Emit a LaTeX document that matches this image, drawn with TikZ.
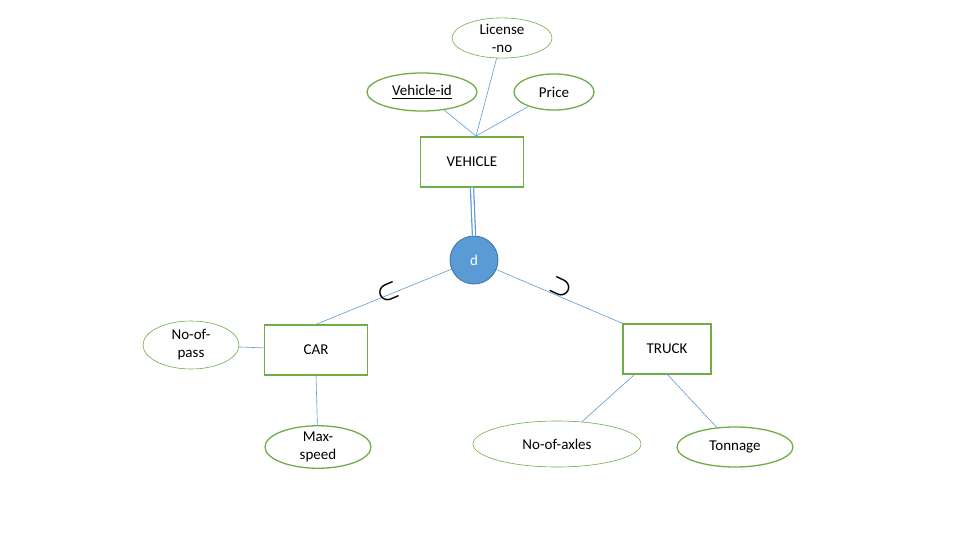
\documentclass[tikz,border=0pt]{standalone}
\usepackage{fontspec}
\usepackage{amsmath}
\setmainfont{Carlito}
\usetikzlibrary{shapes.geometric}

\definecolor{eggreen}{RGB}{112,173,71}
\definecolor{egblue}{RGB}{91,155,213}
\definecolor{egedge}{RGB}{65,113,156}

\tikzset{
  attr/.style = {ellipse, draw=eggreen, line width=1.3pt, inner sep=0pt, align=center},
  thinattr/.style = {attr, line width=0.6pt},
  entity/.style = {rectangle, draw=eggreen, line width=1.3pt, minimum width=103pt, minimum height=50pt},
  link/.style = {draw=egblue, line width=0.6pt},
  subs/.style = {font=\fontsize{40}{40}\selectfont, inner sep=0pt}
}

\begin{document}
\begin{tikzpicture}[x=1pt, y=-1pt, font=\fontsize{15}{18}\selectfont]
  \useasboundingbox (0,0) rectangle (960,540);

  % entities
  \node[entity] (vehicle) at (472,162) {VEHICLE};
  \node[entity] (car) at (316,350) {CAR};
  \node[entity, minimum width=88pt] (truck) at (667,349) {TRUCK};

  % attributes
  \node[thinattr, minimum width=100pt, minimum height=38pt] (license) at (502,38) {License\\-no};
  \node[attr, minimum width=110pt, minimum height=38pt] (vid) at (422,92) {\underline{Vehicle-id}};
  \node[attr, minimum width=80pt, minimum height=36pt] (price) at (554,92) {Price};
  \node[thinattr, minimum width=96pt, minimum height=48pt] (nopass) at (191,345) {No-of-\\pass};
  \node[attr, minimum width=106pt, minimum height=38pt] (maxspeed) at (318,447) {Max-\\speed};
  \node[thinattr, minimum width=168pt, minimum height=46pt] (axles) at (557,444) {No-of-axles};
  \node[attr, minimum width=116pt, minimum height=40pt] (tonnage) at (735,447) {Tonnage};

  % disjoint circle
  \node[circle, fill=egblue, draw=egedge, line width=0.8pt, minimum size=48pt, inner sep=0pt,
        text=white] (disj) at (474,260) {d};

  \coordinate (vjoin) at (476,136);
  \coordinate (tjoin) at (634,375);
  \coordinate (tjoin2) at (667,374);

  % connectors
  \draw[link] (license) -- (vjoin);
  \draw[link] (vid) -- (vjoin);
  \draw[link] (price) -- (vjoin);
  \draw[egblue, double=white, double distance=2pt, line width=1.2pt] (vehicle.south) -- (disj.north);
  \draw[link] (disj) -- (car.north);
  \draw[link] (disj) -- (truck.north west);
  \draw[link] (nopass) -- (car);
  \draw[link] (car.south) -- (maxspeed);
  \draw[link] (tjoin) -- (axles);
  \draw[link] (tjoin2) -- (tonnage);

  % subset marks
  \node[subs, rotate=23] (subcar) at (388,292) {$\boldsymbol{\subset}$};
  \node[subs, rotate=-25] (subtruck) at (561,288) {$\boldsymbol{\supset}$};
\end{tikzpicture}
\end{document}
